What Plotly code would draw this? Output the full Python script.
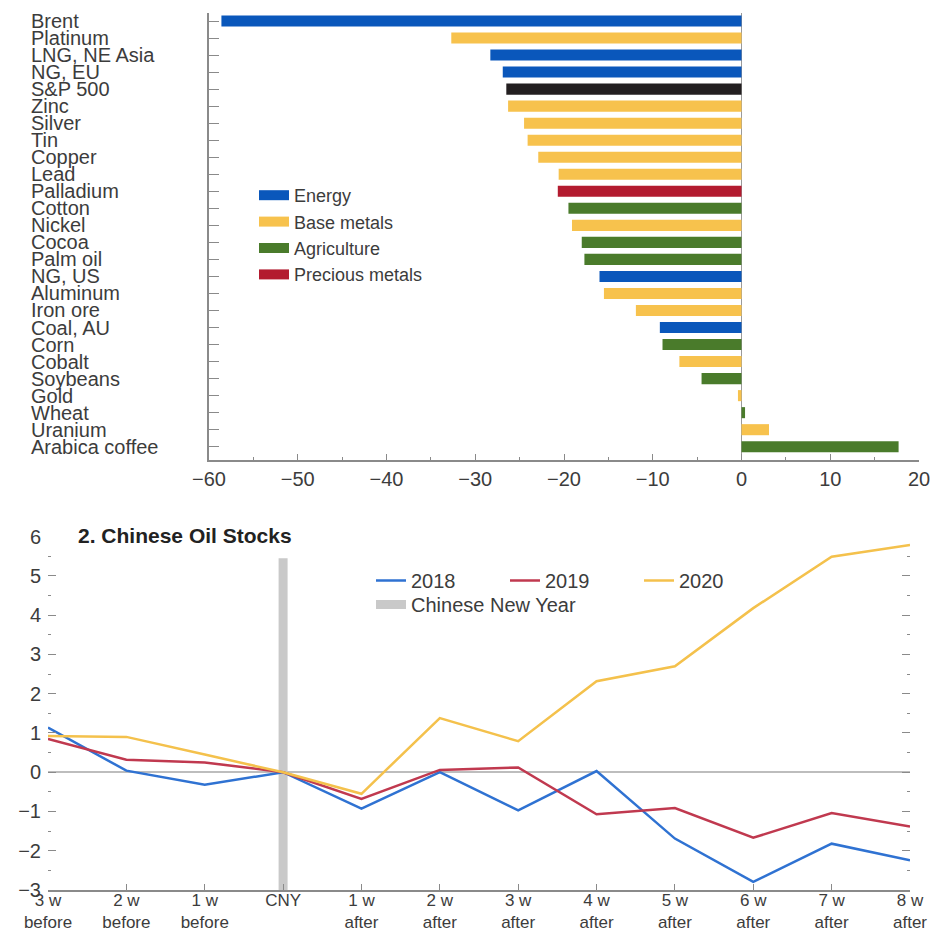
import plotly.graph_objects as go

# ---------- Panel 1 data ----------
commodities = ["Brent", "Platinum", "LNG, NE Asia", "NG, EU", "S&P 500", "Zinc", "Silver", "Tin",
               "Copper", "Lead", "Palladium", "Cotton", "Nickel", "Cocoa", "Palm oil", "NG, US",
               "Aluminum", "Iron ore", "Coal, AU", "Corn", "Cobalt", "Soybeans", "Gold", "Wheat",
               "Uranium", "Arabica coffee"]
changes = [-58.6, -32.7, -28.3, -26.9, -26.5, -26.3, -24.5, -24.1,
           -22.9, -20.6, -20.7, -19.5, -19.1, -18.0, -17.7, -16.0,
           -15.5, -11.9, -9.2, -8.9, -7.0, -4.5, -0.4, 0.4,
           3.1, 17.7]
groups = ["Energy", "Base metals", "Energy", "Energy", "Equity", "Base metals", "Base metals", "Base metals",
          "Base metals", "Base metals", "Precious metals", "Agriculture", "Base metals", "Agriculture",
          "Agriculture", "Energy", "Base metals", "Base metals", "Energy", "Agriculture", "Base metals",
          "Agriculture", "Base metals", "Agriculture", "Base metals", "Agriculture"]
legend_groups = ["Energy", "Base metals", "Agriculture", "Precious metals"]
group_colors = {"Energy": "#0a57bb", "Base metals": "#f7c24d", "Agriculture": "#4a7b2b",
                "Precious metals": "#b31b2f", "Equity": "#231f20"}

# ---------- Panel 2 data ----------
weeks = ["3 w<br>before", "2 w<br>before", "1 w<br>before", "CNY", "1 w<br>after", "2 w<br>after",
         "3 w<br>after", "4 w<br>after", "5 w<br>after", "6 w<br>after", "7 w<br>after", "8 w<br>after"]
stocks_2018 = [1.14, 0.04, -0.32, 0.0, -0.93, 0.0, -0.97, 0.03, -1.69, -2.79, -1.82, -2.24]
stocks_2019 = [0.85, 0.32, 0.25, 0.0, -0.68, 0.06, 0.12, -1.07, -0.91, -1.67, -1.04, -1.38]
stocks_2020 = [0.92, 0.90, 0.45, 0.0, -0.55, 1.38, 0.79, 2.32, 2.70, 4.18, 5.49, 5.79]
cny_band = [-3, 5.45]
year_colors = {"2018": "#2f72d2", "2019": "#c0394f", "2020": "#f4c14c"}

FONT = "Liberation Sans, Arial, sans-serif"
TXT = "#3c3c3c"
AX = "#8a8a8a"
FS = 20

# page has an 8px body margin; map window pixels to paper fractions
W, H = 922, 926
OFF = 8


def px(x):
    return (x - OFF) / W


def py(y):
    return 1 - (y - OFF) / H


fig = go.Figure()

# Bars, one trace per group
for g in ["Energy", "Base metals", "Agriculture", "Precious metals", "Equity"]:
    xs = [v for v, gg in zip(changes, groups) if gg == g]
    ys = [c for c, gg in zip(commodities, groups) if gg == g]
    fig.add_trace(go.Bar(x=xs, y=ys, orientation="h", marker=dict(color=group_colors[g], line=dict(width=0)),
                         name=g, showlegend=False, xaxis="x", yaxis="y"))

# Legend entries for panel 1
for g in legend_groups:
    fig.add_trace(go.Scatter(x=[None], y=[None], mode="lines", name=g,
                             line=dict(color=group_colors[g], width=10),
                             xaxis="x", yaxis="y", legend="legend"))

# Panel 2
fig.add_trace(go.Scatter(x=["CNY", "CNY"], y=cny_band, mode="lines", name="Chinese New Year",
                         line=dict(color="#c9c9c9", width=9), xaxis="x2", yaxis="y2", legend="legend3"))
for yr, vals in [("2018", stocks_2018), ("2019", stocks_2019), ("2020", stocks_2020)]:
    fig.add_trace(go.Scatter(x=weeks, y=vals, mode="lines", name=yr,
                             line=dict(color=year_colors[yr], width=2.5),
                             xaxis="x2", yaxis="y2", legend="legend2"))

annotations = []
for c in commodities:
    annotations.append(dict(text=c, x=px(29), xref="paper", xanchor="left", y=c, yref="y",
                            yanchor="middle", showarrow=False,
                            font=dict(family=FONT, size=FS, color=TXT)))
annotations.append(dict(text="<b>2. Chinese Oil Stocks</b>", x=px(76), xref="paper", xanchor="left",
                        y=py(535), yref="paper", yanchor="middle", showarrow=False,
                        font=dict(family=FONT, size=21, color="#222")))

fig.update_layout(
    width=W, height=H,
    margin=dict(l=0, r=0, t=0, b=0, autoexpand=False),
    paper_bgcolor="white", plot_bgcolor="white",
    font=dict(family=FONT, size=FS, color=TXT),
    barmode="overlay", bargap=0.35,
    annotations=annotations,
    xaxis=dict(domain=[px(209), px(919)], range=[-60, 20], anchor="y",
               showgrid=False, zeroline=True, zerolinecolor="#9a9a9a", zerolinewidth=1,
               showline=True, linecolor=AX, linewidth=1.5,
               ticks="inside", ticklen=6, tickcolor=AX, dtick=10, tick0=0,
               minor=dict(ticks="inside", ticklen=3, dtick=5, tickcolor=AX),
               ticklabeloverflow="allow",
               tickfont=dict(size=FS, color=TXT), automargin=False),
    yaxis=dict(domain=[py(460), py(13)], anchor="x", type="category",
               categoryorder="array", categoryarray=commodities,
               range=[25.78, -0.47], showgrid=False, showticklabels=False,
               showline=True, linecolor=AX, linewidth=1.5,
               ticks="inside", ticklen=10, tickcolor=AX, automargin=False),
    xaxis2=dict(domain=[px(48), px(910)], anchor="y2", type="category",
                categoryorder="array", categoryarray=weeks, range=[0, 11],
                showgrid=False, showline=True, linecolor=AX, linewidth=1.5,
                ticks="inside", ticklen=6, tickcolor=AX,
                ticklabelstandoff=-6, ticklabeloverflow="allow",
                tickfont=dict(size=17, color=TXT), automargin=False),
    yaxis2=dict(domain=[py(890), py(536.7)], anchor="x2", range=[-3, 6],
                showgrid=False, showline=False, zeroline=True, zerolinecolor="#bdbdbd", zerolinewidth=1.5,
                ticks="inside", ticklen=8, tickcolor=AX, dtick=1, mirror="ticks",
                minor=dict(ticks="inside", ticklen=3, dtick=0.5, tickcolor=AX),
                ticklabelstandoff=6, ticklabeloverflow="allow",
                tickfont=dict(size=FS, color=TXT), automargin=False),
    legend=dict(x=px(254), y=py(177), xanchor="left", yanchor="top",
                bgcolor="rgba(0,0,0,0)", font=dict(size=18, color=TXT),
                tracegroupgap=0, itemwidth=30),
    legend2=dict(x=px(371), y=py(561), xanchor="left", yanchor="top",
                 orientation="h", entrywidth=89, entrywidthmode="pixels",
                 bgcolor="rgba(0,0,0,0)", font=dict(size=FS, color=TXT)),
    legend3=dict(x=px(371), y=py(585), xanchor="left", yanchor="top",
                 orientation="h", bgcolor="rgba(0,0,0,0)", font=dict(size=FS, color=TXT)),
)

fig.write_html("out.html")
